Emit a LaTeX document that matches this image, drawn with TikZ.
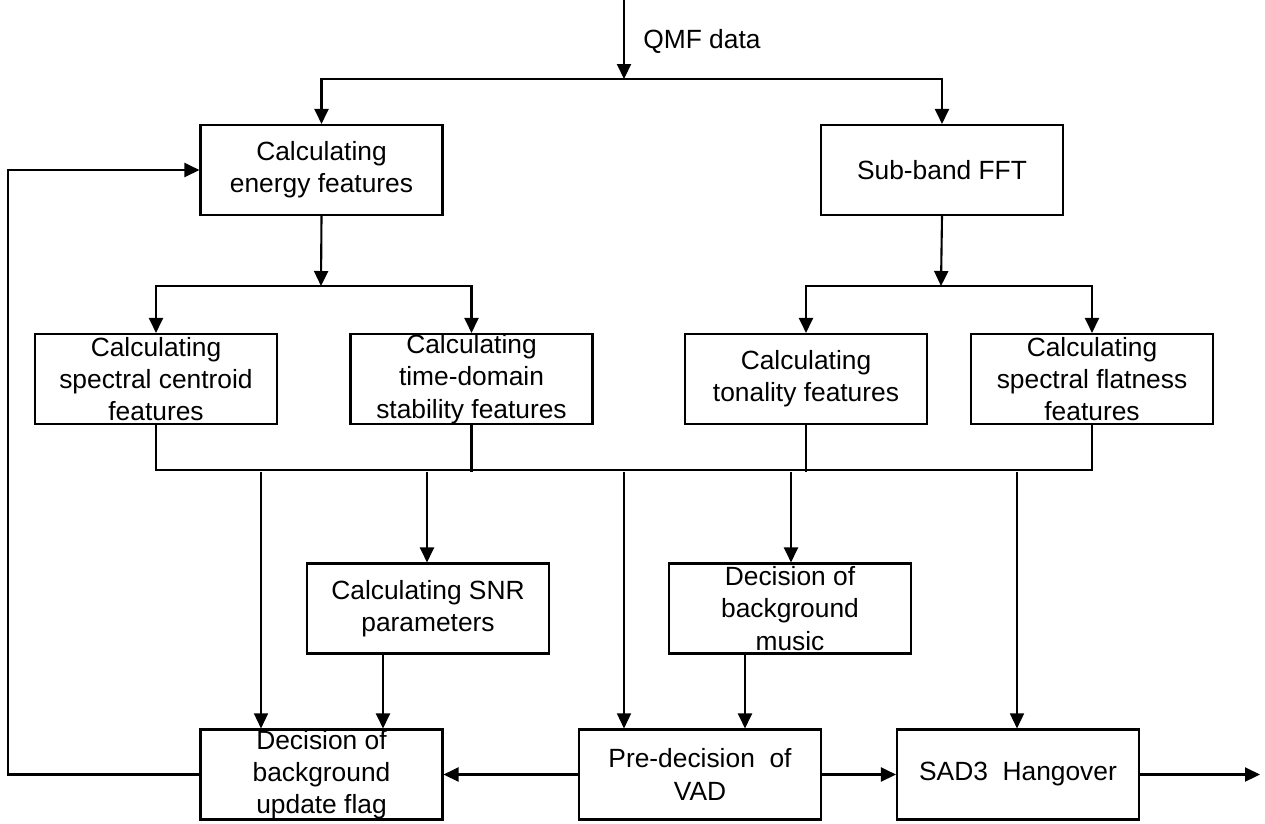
\documentclass[tikz,border=0pt]{standalone}
\usepackage{fontspec}
\setmainfont{Liberation Sans}
\usetikzlibrary{arrows.meta}

\begin{document}
\begin{tikzpicture}[line join=miter,>={Triangle[length=0.3cm,width=0.28cm]},x=0.02cm,y=-0.02cm,
  blk/.style={draw,line width=1.2pt,minimum width=4.84cm,minimum height=1.8cm,align=center,inner sep=0pt,font=\fontsize{15}{18.4}\selectfont},
  flow/.style={line width=1.2pt},
  thin/.style={line width=0.8pt}]
\useasboundingbox (0,0) rectangle (1265,823);
% blocks
\node[blk] (energy) at (321.5,170) {Calculating\\energy features};
\node[blk] (fft) at (942,170) {Sub-band FFT};
\node[blk] (centroid) at (156,379) {Calculating\\spectral centroid\\features};
\node[blk] (stab) at (471.5,379) {Calculating\\time-domain\\stability features};
\node[blk] (tonal) at (806,379) {Calculating\\tonality features};
\node[blk] (flat) at (1092,379) {Calculating\\spectral flatness\\features};
\node[blk] (snr) at (428,608.5) {Calculating SNR\\parameters};
\node[blk] (music) at (790,608.5) {Decision of\\background\\music};
\node[blk] (upd) at (321.5,774.5) {Decision of\\background\\update flag};
\node[blk] (pre) at (700,774.5) {Pre-decision~ of\\VAD};
\node[blk] (hang) at (1018,774.5) {SAD3~ Hangover};
\node[anchor=base west,inner sep=0pt,font=\fontsize{15}{18.4}\selectfont] (qmf) at (643,48) {QMF data};
% branch points
\coordinate (qin) at (624,0);
\coordinate (qsplit) at (624,79);
\coordinate (esplit) at (321,286);
\coordinate (fsplit) at (941,286);
\coordinate (bus) at (0,470);
\coordinate (d1) at (261,472);
\coordinate (d2) at (427,472);
\coordinate (d3) at (624,472);
\coordinate (d4) at (791,472);
\coordinate (d5) at (1017,472);
\coordinate (c6) at (383,0);
\coordinate (c7) at (745,0);
\coordinate (fb) at (8,774.5);
\coordinate (out) at (1260,774.5);
% input
\draw[flow,->] (qin) -- (qsplit);
\draw[flow,->] (qsplit) -| (energy.north);
\draw[flow,->] (qsplit) -| (fft.north);
\draw[flow,->] (energy.south) -- (esplit);
\draw[flow,->] (esplit) -| (centroid.north);
\draw[flow,->] (esplit) -| (stab.north);
\draw[flow,->] (fft.south) -- (fsplit);
\draw[flow,->] (fsplit) -| (tonal.north);
\draw[flow,->] (fsplit) -| (flat.north);
% feature bus
\draw[flow] (centroid.south) |- (flat.south |- bus) -- (flat.south);
\draw[flow] (stab.south) -- (stab.south |- d1);
\draw[flow] (tonal.south) -- (tonal.south |- d1);
\draw[thin,->] (d1) -- (upd.north -| d1);
\draw[flow,->] (d2) -- (snr.north -| d2);
\draw[thin,->] (d3) -- (pre.north -| d3);
\draw[flow,->] (d4) -- (music.north -| d4);
\draw[thin,->] (d5) -- (hang.north -| d5);
\draw[flow,->] (snr.south -| c6) -- (upd.north -| c6);
\draw[flow,->] (music.south -| c7) -- (pre.north -| c7);
% decisions
\draw[flow,->] (pre) -- (upd);
\draw[flow,->] (pre) -- (hang);
\draw[flow,->] (hang) -- (out);
\draw[flow,->] (upd.west) -- (fb) |- (energy.west);
\end{tikzpicture}
\end{document}
